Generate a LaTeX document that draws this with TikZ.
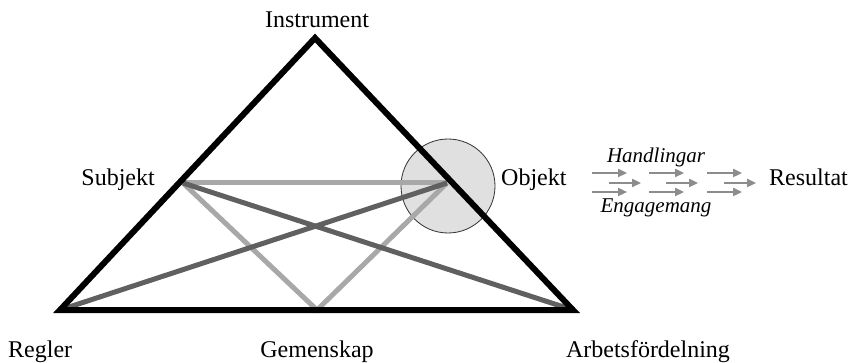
\documentclass[tikz,border=0pt]{standalone}
\usepackage{fontspec}
\setmainfont{Liberation Serif}
\usetikzlibrary{arrows.meta, positioning}

\definecolor{lightline}{HTML}{A8A8A8}
\definecolor{darkline}{HTML}{606060}
\definecolor{objfill}{HTML}{E0E0E0}
\definecolor{flowgray}{HTML}{8C8C8C}

\begin{document}
\begin{tikzpicture}[
    x=1pt, y=-1pt,
    font=\fontsize{24}{28}\selectfont,
    edge/.style={line width=6pt, line join=miter},
    light/.style={line width=5pt, lightline},
    dark/.style={line width=5pt, darkline},
    flow/.style={-{Triangle[length=9pt,width=8pt]}, line width=2.8pt, flowgray},
    label/.style={inner sep=0pt},
]
    \useasboundingbox (0,0) rectangle (853,363);

    % corners and mid points of the triangle
    \coordinate (top)   at (315,38);
    \coordinate (left)  at (60,310);
    \coordinate (right) at (573,310);
    \coordinate (subj)  at (183,183);
    \coordinate (obj)   at (447,183);
    \coordinate (comm)  at (317,310);

    % object circle
    \draw[objfill, fill=objfill] (448,186) circle (47);
    \draw[line width=0.8pt, black!80] (448,186) circle (47);

    % inner relations
    \draw[light] (subj) -- (obj);
    \draw[light] (subj) -- (comm) -- (obj);
    \draw[dark]  (subj) -- (right);
    \draw[dark]  (left) -- (obj);

    % the triangle
    \draw[edge] (top) -- (right) -- (left) -- cycle;

    % labels
    \node[label, anchor=base]      at (317,28)   (instr)  {Instrument};
    \node[label, anchor=base east] at (155,186)  (subjl)  {Subjekt};
    \node[label, anchor=base west] at (501,186)  (objl)   {Objekt};
    \node[label, anchor=base west] at (8,357)    (regl)   {Regler};
    \node[label, anchor=base]      at (317,357)  (comml)  {Gemenskap};
    \node[label, anchor=base]      at (648,357)  (arbl)   {Arbetsfördelning};
    \node[label, anchor=base west] at (769,186)  (res)    {Resultat};
    \node[label, font=\fontsize{21}{24}\selectfont\itshape] at (656,157) (hand) {Handlingar};
    \node[label, font=\fontsize{21}{24}\selectfont\itshape] at (656,208) (eng)  {Engagemang};

    % flow of actions towards the result
    \foreach \dx in {0,57,115} {
        \draw[flow] (592+\dx,173) -- ++(35,0);
        \draw[flow] (609+\dx,183) -- ++(32,0);
        \draw[flow] (592+\dx,192) -- ++(35,0);
    }
\end{tikzpicture}
\end{document}
